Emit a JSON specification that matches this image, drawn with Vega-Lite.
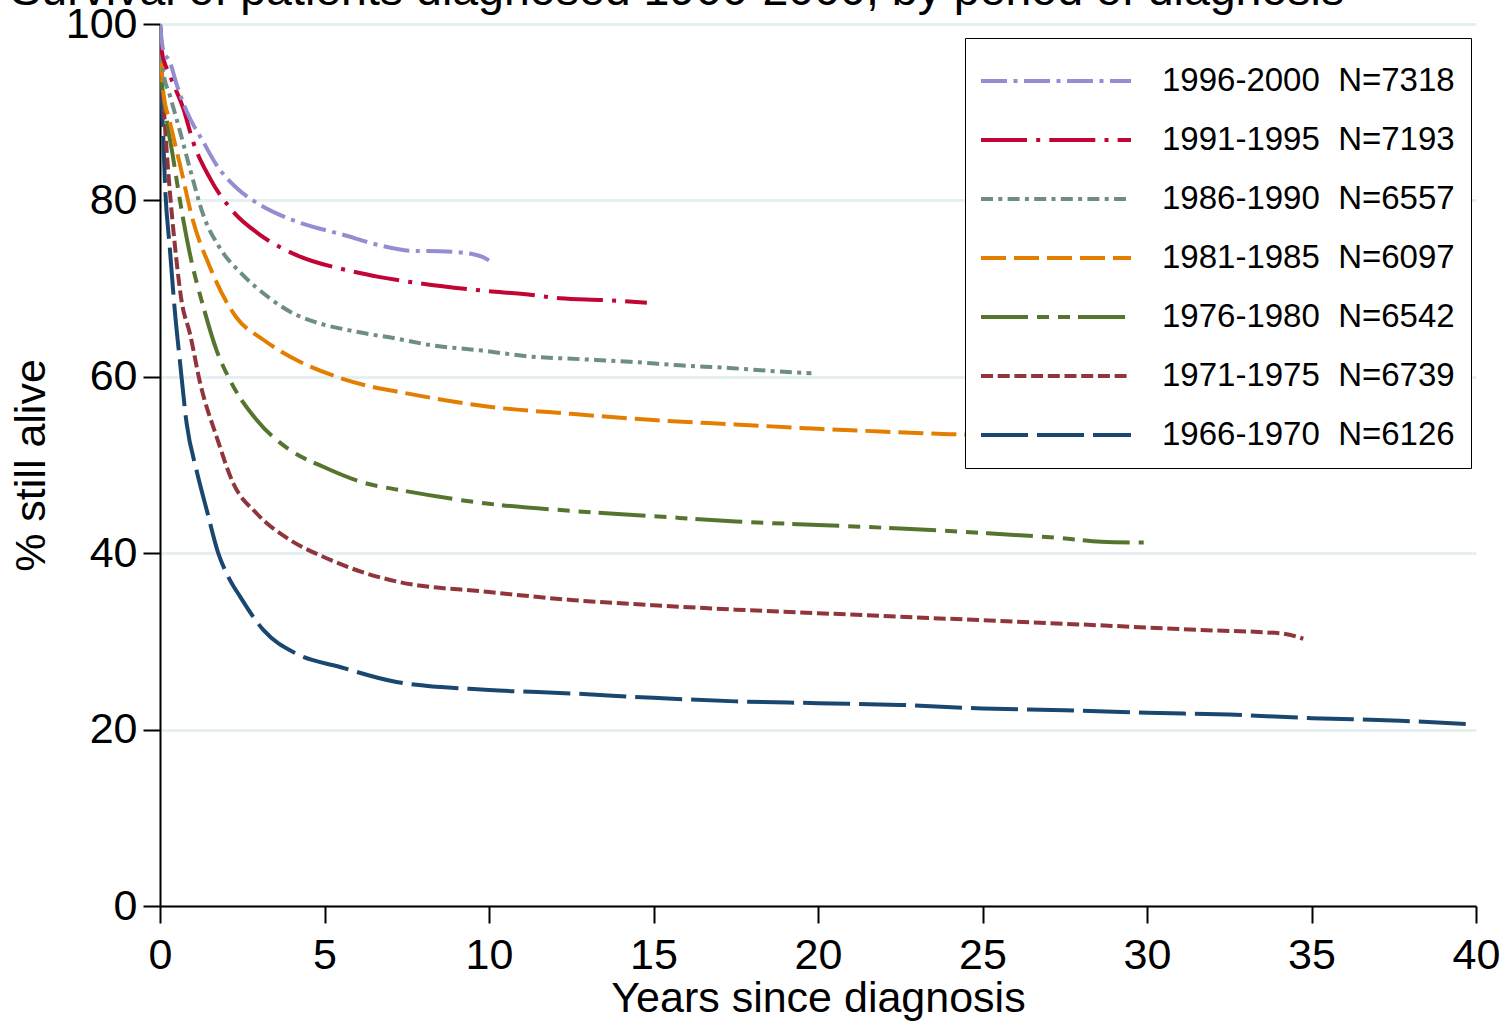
{
  "$schema": "https://vega.github.io/schema/vega-lite/v6.json",
  "width": 1316,
  "height": 882,
  "autosize": {"type": "none"},
  "padding": {"left": 160, "top": 24, "right": 27, "bottom": 115},
  "background": "white",
  "title": {
    "text": "Survival of patients diagnosed 1966-2000, by period of diagnosis",
    "fontSize": 46.5,
    "fontWeight": "normal",
    "font": "Liberation Sans",
    "color": "black",
    "anchor": "start",
    "frame": "bounds",
    "offset": 0,
    "dy": 11
  },
  "config": {
    "font": "Liberation Sans",
    "view": {"stroke": null},
    "axis": {
      "labelColor": "black",
      "titleColor": "black",
      "domainColor": "black",
      "tickColor": "black",
      "domainWidth": 2,
      "tickWidth": 2,
      "tickSize": 17,
      "labelFontSize": 43,
      "titleFontSize": 43,
      "titleFontWeight": "normal",
      "labelFont": "Liberation Sans",
      "titleFont": "Liberation Sans",
      "labelFlush": false,
      "labelOverlap": false
    },
    "legend": {
      "orient": "none",
      "legendX": 805,
      "legendY": 14,
      "strokeColor": "black",
      "fillColor": "white",
      "padding": 16,
      "symbolType": "M-3,0H3",
      "symbolSize": 2500,
      "symbolStrokeWidth": 4,
      "labelFontSize": 33,
      "labelFont": "Liberation Sans",
      "labelColor": "black",
      "rowPadding": 15,
      "symbolOffset": 48,
      "labelOffset": 79,
      "labelLimit": 400
    }
  },
  "data": {
    "values": [
      {"period": "1966-1970\u00a0 N=6126", "t": 0, "s": 100},
      {"period": "1966-1970\u00a0 N=6126", "t": 0.02, "s": 96},
      {"period": "1966-1970\u00a0 N=6126", "t": 0.05, "s": 92},
      {"period": "1966-1970\u00a0 N=6126", "t": 0.1, "s": 87},
      {"period": "1966-1970\u00a0 N=6126", "t": 0.15, "s": 82},
      {"period": "1966-1970\u00a0 N=6126", "t": 0.3, "s": 74.5},
      {"period": "1966-1970\u00a0 N=6126", "t": 0.45, "s": 67.5},
      {"period": "1966-1970\u00a0 N=6126", "t": 0.61, "s": 61.6},
      {"period": "1966-1970\u00a0 N=6126", "t": 0.81, "s": 54.7},
      {"period": "1966-1970\u00a0 N=6126", "t": 1.11, "s": 49.4},
      {"period": "1966-1970\u00a0 N=6126", "t": 1.42, "s": 44.9},
      {"period": "1966-1970\u00a0 N=6126", "t": 1.77, "s": 40.0},
      {"period": "1966-1970\u00a0 N=6126", "t": 2.08, "s": 37.3},
      {"period": "1966-1970\u00a0 N=6126", "t": 2.43, "s": 35.1},
      {"period": "1966-1970\u00a0 N=6126", "t": 3.14, "s": 31.3},
      {"period": "1966-1970\u00a0 N=6126", "t": 4.15, "s": 28.6},
      {"period": "1966-1970\u00a0 N=6126", "t": 5.47, "s": 27.1},
      {"period": "1966-1970\u00a0 N=6126", "t": 7.19, "s": 25.4},
      {"period": "1966-1970\u00a0 N=6126", "t": 10, "s": 24.5},
      {"period": "1966-1970\u00a0 N=6126", "t": 12.5, "s": 24.1},
      {"period": "1966-1970\u00a0 N=6126", "t": 15, "s": 23.6},
      {"period": "1966-1970\u00a0 N=6126", "t": 17.5, "s": 23.2},
      {"period": "1966-1970\u00a0 N=6126", "t": 20, "s": 23.0},
      {"period": "1966-1970\u00a0 N=6126", "t": 22.5, "s": 22.8},
      {"period": "1966-1970\u00a0 N=6126", "t": 25, "s": 22.4},
      {"period": "1966-1970\u00a0 N=6126", "t": 27.5, "s": 22.2},
      {"period": "1966-1970\u00a0 N=6126", "t": 30, "s": 21.9},
      {"period": "1966-1970\u00a0 N=6126", "t": 32.5, "s": 21.7},
      {"period": "1966-1970\u00a0 N=6126", "t": 35, "s": 21.3},
      {"period": "1966-1970\u00a0 N=6126", "t": 37.7, "s": 21.0},
      {"period": "1966-1970\u00a0 N=6126", "t": 39.9, "s": 20.6},

      {"period": "1971-1975\u00a0 N=6739", "t": 0, "s": 100},
      {"period": "1971-1975\u00a0 N=6739", "t": 0.05, "s": 95},
      {"period": "1971-1975\u00a0 N=6739", "t": 0.15, "s": 88.5},
      {"period": "1971-1975\u00a0 N=6739", "t": 0.3, "s": 81},
      {"period": "1971-1975\u00a0 N=6739", "t": 0.45, "s": 75},
      {"period": "1971-1975\u00a0 N=6739", "t": 0.66, "s": 68.5},
      {"period": "1971-1975\u00a0 N=6739", "t": 0.91, "s": 64.9},
      {"period": "1971-1975\u00a0 N=6739", "t": 1.22, "s": 59.3},
      {"period": "1971-1975\u00a0 N=6739", "t": 1.72, "s": 53.2},
      {"period": "1971-1975\u00a0 N=6739", "t": 2.23, "s": 47.9},
      {"period": "1971-1975\u00a0 N=6739", "t": 2.94, "s": 44.5},
      {"period": "1971-1975\u00a0 N=6739", "t": 3.95, "s": 41.5},
      {"period": "1971-1975\u00a0 N=6739", "t": 4.96, "s": 39.6},
      {"period": "1971-1975\u00a0 N=6739", "t": 6.28, "s": 37.7},
      {"period": "1971-1975\u00a0 N=6739", "t": 7.19, "s": 36.8},
      {"period": "1971-1975\u00a0 N=6739", "t": 10, "s": 35.6},
      {"period": "1971-1975\u00a0 N=6739", "t": 12.5, "s": 34.7},
      {"period": "1971-1975\u00a0 N=6739", "t": 15, "s": 34.1},
      {"period": "1971-1975\u00a0 N=6739", "t": 17.5, "s": 33.6},
      {"period": "1971-1975\u00a0 N=6739", "t": 20, "s": 33.2},
      {"period": "1971-1975\u00a0 N=6739", "t": 22.5, "s": 32.8},
      {"period": "1971-1975\u00a0 N=6739", "t": 25, "s": 32.4},
      {"period": "1971-1975\u00a0 N=6739", "t": 28.7, "s": 31.8},
      {"period": "1971-1975\u00a0 N=6739", "t": 31.6, "s": 31.3},
      {"period": "1971-1975\u00a0 N=6739", "t": 34.1, "s": 30.9},
      {"period": "1971-1975\u00a0 N=6739", "t": 34.75, "s": 30.3},

      {"period": "1976-1980\u00a0 N=6542", "t": 0, "s": 100},
      {"period": "1976-1980\u00a0 N=6542", "t": 0.05, "s": 94},
      {"period": "1976-1980\u00a0 N=6542", "t": 0.2, "s": 89.3},
      {"period": "1976-1980\u00a0 N=6542", "t": 0.4, "s": 84.8},
      {"period": "1976-1980\u00a0 N=6542", "t": 0.61, "s": 79.9},
      {"period": "1976-1980\u00a0 N=6542", "t": 0.91, "s": 73.9},
      {"period": "1976-1980\u00a0 N=6542", "t": 1.32, "s": 67.9},
      {"period": "1976-1980\u00a0 N=6542", "t": 1.72, "s": 63.0},
      {"period": "1976-1980\u00a0 N=6542", "t": 2.13, "s": 59.6},
      {"period": "1976-1980\u00a0 N=6542", "t": 2.94, "s": 55.1},
      {"period": "1976-1980\u00a0 N=6542", "t": 3.95, "s": 51.7},
      {"period": "1976-1980\u00a0 N=6542", "t": 4.96, "s": 49.8},
      {"period": "1976-1980\u00a0 N=6542", "t": 6.28, "s": 47.9},
      {"period": "1976-1980\u00a0 N=6542", "t": 7.24, "s": 47.2},
      {"period": "1976-1980\u00a0 N=6542", "t": 10, "s": 45.6},
      {"period": "1976-1980\u00a0 N=6542", "t": 12.5, "s": 44.8},
      {"period": "1976-1980\u00a0 N=6542", "t": 15, "s": 44.2},
      {"period": "1976-1980\u00a0 N=6542", "t": 17.5, "s": 43.6},
      {"period": "1976-1980\u00a0 N=6542", "t": 20, "s": 43.2},
      {"period": "1976-1980\u00a0 N=6542", "t": 22.5, "s": 42.8},
      {"period": "1976-1980\u00a0 N=6542", "t": 25, "s": 42.3},
      {"period": "1976-1980\u00a0 N=6542", "t": 27.4, "s": 41.7},
      {"period": "1976-1980\u00a0 N=6542", "t": 28.6, "s": 41.3},
      {"period": "1976-1980\u00a0 N=6542", "t": 29.9, "s": 41.2},

      {"period": "1981-1985\u00a0 N=6097", "t": 0, "s": 100},
      {"period": "1981-1985\u00a0 N=6097", "t": 0.1, "s": 92.3},
      {"period": "1981-1985\u00a0 N=6097", "t": 0.3, "s": 88.9},
      {"period": "1981-1985\u00a0 N=6097", "t": 0.61, "s": 84.0},
      {"period": "1981-1985\u00a0 N=6097", "t": 1.01, "s": 77.6},
      {"period": "1981-1985\u00a0 N=6097", "t": 1.5, "s": 72.6},
      {"period": "1981-1985\u00a0 N=6097", "t": 2.13, "s": 67.8},
      {"period": "1981-1985\u00a0 N=6097", "t": 2.33, "s": 66.7},
      {"period": "1981-1985\u00a0 N=6097", "t": 3.14, "s": 64.2},
      {"period": "1981-1985\u00a0 N=6097", "t": 4.15, "s": 61.9},
      {"period": "1981-1985\u00a0 N=6097", "t": 5.37, "s": 60.0},
      {"period": "1981-1985\u00a0 N=6097", "t": 6.28, "s": 59.0},
      {"period": "1981-1985\u00a0 N=6097", "t": 7.24, "s": 58.3},
      {"period": "1981-1985\u00a0 N=6097", "t": 10, "s": 56.6},
      {"period": "1981-1985\u00a0 N=6097", "t": 12.5, "s": 55.8},
      {"period": "1981-1985\u00a0 N=6097", "t": 15, "s": 55.1},
      {"period": "1981-1985\u00a0 N=6097", "t": 17.5, "s": 54.6},
      {"period": "1981-1985\u00a0 N=6097", "t": 20, "s": 54.1},
      {"period": "1981-1985\u00a0 N=6097", "t": 21.9, "s": 53.8},
      {"period": "1981-1985\u00a0 N=6097", "t": 24.0, "s": 53.5},
      {"period": "1981-1985\u00a0 N=6097", "t": 25, "s": 53.4},

      {"period": "1986-1990\u00a0 N=6557", "t": 0, "s": 100},
      {"period": "1986-1990\u00a0 N=6557", "t": 0.1, "s": 94.6},
      {"period": "1986-1990\u00a0 N=6557", "t": 0.3, "s": 91.9},
      {"period": "1986-1990\u00a0 N=6557", "t": 0.61, "s": 87.8},
      {"period": "1986-1990\u00a0 N=6557", "t": 0.91, "s": 83.6},
      {"period": "1986-1990\u00a0 N=6557", "t": 1.32, "s": 78.3},
      {"period": "1986-1990\u00a0 N=6557", "t": 1.82, "s": 74.6},
      {"period": "1986-1990\u00a0 N=6557", "t": 2.53, "s": 71.5},
      {"period": "1986-1990\u00a0 N=6557", "t": 3.34, "s": 68.9},
      {"period": "1986-1990\u00a0 N=6557", "t": 4.15, "s": 67.0},
      {"period": "1986-1990\u00a0 N=6557", "t": 4.56, "s": 66.4},
      {"period": "1986-1990\u00a0 N=6557", "t": 5.98, "s": 65.1},
      {"period": "1986-1990\u00a0 N=6557", "t": 7.24, "s": 64.3},
      {"period": "1986-1990\u00a0 N=6557", "t": 8.21, "s": 63.6},
      {"period": "1986-1990\u00a0 N=6557", "t": 9.73, "s": 63.0},
      {"period": "1986-1990\u00a0 N=6557", "t": 11.25, "s": 62.3},
      {"period": "1986-1990\u00a0 N=6557", "t": 12.77, "s": 62.0},
      {"period": "1986-1990\u00a0 N=6557", "t": 14.29, "s": 61.7},
      {"period": "1986-1990\u00a0 N=6557", "t": 15.8, "s": 61.3},
      {"period": "1986-1990\u00a0 N=6557", "t": 17.3, "s": 61.0},
      {"period": "1986-1990\u00a0 N=6557", "t": 18.8, "s": 60.6},
      {"period": "1986-1990\u00a0 N=6557", "t": 19.8, "s": 60.4},

      {"period": "1991-1995\u00a0 N=7193", "t": 0, "s": 100},
      {"period": "1991-1995\u00a0 N=7193", "t": 0.05, "s": 97},
      {"period": "1991-1995\u00a0 N=7193", "t": 0.3, "s": 94.2},
      {"period": "1991-1995\u00a0 N=7193", "t": 0.71, "s": 90.4},
      {"period": "1991-1995\u00a0 N=7193", "t": 1.01, "s": 86.6},
      {"period": "1991-1995\u00a0 N=7193", "t": 1.52, "s": 82.5},
      {"period": "1991-1995\u00a0 N=7193", "t": 2.23, "s": 78.7},
      {"period": "1991-1995\u00a0 N=7193", "t": 3.04, "s": 76.1},
      {"period": "1991-1995\u00a0 N=7193", "t": 4.15, "s": 73.8},
      {"period": "1991-1995\u00a0 N=7193", "t": 5.67, "s": 72.1},
      {"period": "1991-1995\u00a0 N=7193", "t": 6.69, "s": 71.3},
      {"period": "1991-1995\u00a0 N=7193", "t": 7.9, "s": 70.6},
      {"period": "1991-1995\u00a0 N=7193", "t": 9.73, "s": 69.8},
      {"period": "1991-1995\u00a0 N=7193", "t": 11.25, "s": 69.3},
      {"period": "1991-1995\u00a0 N=7193", "t": 12.16, "s": 68.9},
      {"period": "1991-1995\u00a0 N=7193", "t": 13.5, "s": 68.7},
      {"period": "1991-1995\u00a0 N=7193", "t": 14.8, "s": 68.4},

      {"period": "1996-2000\u00a0 N=7318", "t": 0, "s": 100},
      {"period": "1996-2000\u00a0 N=7318", "t": 0.1, "s": 97},
      {"period": "1996-2000\u00a0 N=7318", "t": 0.3, "s": 95.7},
      {"period": "1996-2000\u00a0 N=7318", "t": 0.51, "s": 93.1},
      {"period": "1996-2000\u00a0 N=7318", "t": 0.81, "s": 90.1},
      {"period": "1996-2000\u00a0 N=7318", "t": 1.32, "s": 86.6},
      {"period": "1996-2000\u00a0 N=7318", "t": 1.72, "s": 84.0},
      {"period": "1996-2000\u00a0 N=7318", "t": 2.33, "s": 81.4},
      {"period": "1996-2000\u00a0 N=7318", "t": 3.04, "s": 79.5},
      {"period": "1996-2000\u00a0 N=7318", "t": 4.15, "s": 77.6},
      {"period": "1996-2000\u00a0 N=7318", "t": 5.57, "s": 76.1},
      {"period": "1996-2000\u00a0 N=7318", "t": 6.69, "s": 74.9},
      {"period": "1996-2000\u00a0 N=7318", "t": 7.6, "s": 74.3},
      {"period": "1996-2000\u00a0 N=7318", "t": 8.71, "s": 74.2},
      {"period": "1996-2000\u00a0 N=7318", "t": 9.52, "s": 73.9},
      {"period": "1996-2000\u00a0 N=7318", "t": 9.8, "s": 73.6},
      {"period": "1996-2000\u00a0 N=7318", "t": 10.0, "s": 73.2}
    ]
  },
  "mark": {"type": "line", "strokeWidth": 4, "interpolate": "monotone", "clip": true},
  "encoding": {
    "x": {
      "field": "t",
      "type": "quantitative",
      "scale": {"domain": [0, 40], "nice": false, "zero": true},
      "axis": {
        "values": [0, 5, 10, 15, 20, 25, 30, 35, 40],
        "grid": false,
        "title": "Years since diagnosis",
        "labelPadding": 11,
        "titlePadding": 0
      }
    },
    "y": {
      "field": "s",
      "type": "quantitative",
      "scale": {"domain": [0, 100], "nice": false},
      "axis": {
        "values": [0, 20, 40, 60, 80, 100],
        "grid": true,
        "gridColor": "#e6eff1",
        "gridWidth": 3,
        "labelPadding": 6,
        "title": "% still alive",
        "titlePadding": 12
      }
    },
    "color": {
      "field": "period",
      "type": "nominal",
      "title": null,
      "scale": {
        "domain": ["1996-2000\u00a0 N=7318", "1991-1995\u00a0 N=7193", "1986-1990\u00a0 N=6557", "1981-1985\u00a0 N=6097", "1976-1980\u00a0 N=6542", "1971-1975\u00a0 N=6739", "1966-1970\u00a0 N=6126"],
        "range": ["#938dd2", "#c10534", "#6e8e84", "#e37e00", "#55752f", "#90353b", "#1a476f"]
      }
    },
    "strokeDash": {
      "field": "period",
      "type": "nominal",
      "title": null,
      "scale": {
        "domain": ["1996-2000\u00a0 N=7318", "1991-1995\u00a0 N=7193", "1986-1990\u00a0 N=6557", "1981-1985\u00a0 N=6097", "1976-1980\u00a0 N=6542", "1971-1975\u00a0 N=6739", "1966-1970\u00a0 N=6126"],
        "range": [[26, 6.5, 4, 6.5], [46, 9.2, 4, 9.1], [12, 5.3, 4, 5.3], [25, 8], [47, 9, 12, 9, 12, 8], [12, 4.7], [47, 9]]
      }
    }
  }
}
